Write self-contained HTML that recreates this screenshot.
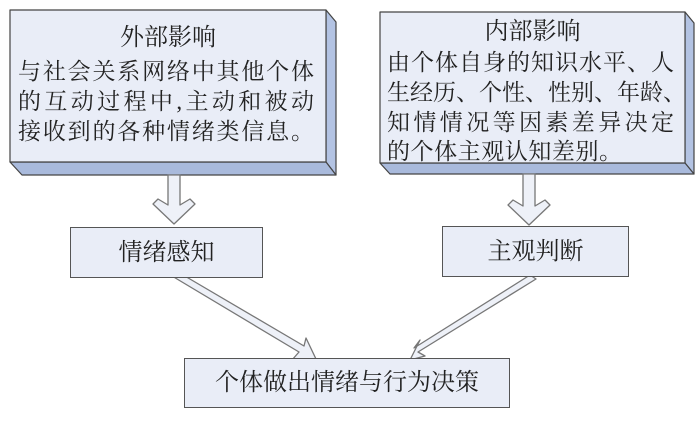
<!DOCTYPE html>
<html><head><meta charset="utf-8"><style>
body{margin:0;width:700px;height:427px;background:#fff;position:relative;overflow:hidden;font-family:"Liberation Serif","Noto Serif CJK SC",serif;color:#222}
.t{position:absolute;font-size:24px;line-height:30px;white-space:nowrap;text-align:center}
.j{position:absolute;font-size:23px;line-height:30px;white-space:nowrap;text-align:justify;text-align-last:justify;text-justify:inter-character}
.b{position:absolute;background:#e9edf7;border:1.5px solid #555;box-sizing:border-box}
</style></head><body>
<svg width="700" height="427" style="position:absolute;left:0;top:0">
<g stroke="#444" stroke-width="1.2" stroke-linejoin="round">
<polygon points="326,10 336,22 336,175 326,162" fill="#b3c3e3"/>
<polygon points="10,162 326,162 336,175 22,175" fill="#a9badc"/>
<rect x="10" y="10" width="316" height="152" fill="#e9edf7"/>
<polygon points="685,12 694,23 694,174 685,163" fill="#b3c3e3"/>
<polygon points="380,163 685,163 694,174 390,174" fill="#a9badc"/>
<rect x="380" y="12" width="305" height="151" fill="#e9edf7"/>
</g>
<g fill="#eef1f8" stroke="#777" stroke-width="1.3" stroke-linejoin="round">
<polygon points="168,175 180,175 180,205 190,199 195,204 174,224 153,204 158,199 168,205"/>
<polygon points="523,174 535,174 535,206 545,200 550,205 529,225 508,205 513,200 523,206"/>
<polygon points="172,276 178,272 304,346 306,338 316,359 292,360 299,352"/>
<polygon points="530,275 536,279 418,352 425,356 410,360 420,340 414,348"/>
</g>
</svg>
<div class="b" style="left:70px;top:227px;width:193px;height:51px"></div>
<div class="b" style="left:442px;top:226px;width:187px;height:51px"></div>
<div class="b" style="left:184px;top:358px;width:326px;height:50px"></div>
<div class="t" style="left:10px;top:23px;width:316px">外部影响</div>
<div class="j" style="left:18px;top:57px;width:296px">与社会关系网络中其他个体</div>
<div class="j" style="left:18px;top:87px;width:296px">的互动过程中,主动和被动</div>
<div class="j" style="left:18px;top:117px;width:296px">接收到的各种情绪类信息。</div>
<div class="t" style="left:380px;top:17px;width:305px">内部影响</div>
<div class="j" style="left:387px;top:48px;width:287px">由个体自身的知识水平、人</div>
<div class="j" style="left:387px;top:78px;width:287px">生经历、个性、性别、年龄、</div>
<div class="j" style="left:387px;top:108px;width:287px">知情情况等因素差异决定</div>
<div class="j" style="left:387px;top:137px;width:235px">的个体主观认知差别。</div>
<div class="t" style="left:70px;top:238px;width:193px">情绪感知</div>
<div class="t" style="left:442px;top:237px;width:187px">主观判断</div>
<div class="t" style="left:184px;top:368px;width:326px">个体做出情绪与行为决策</div>
</body></html>
